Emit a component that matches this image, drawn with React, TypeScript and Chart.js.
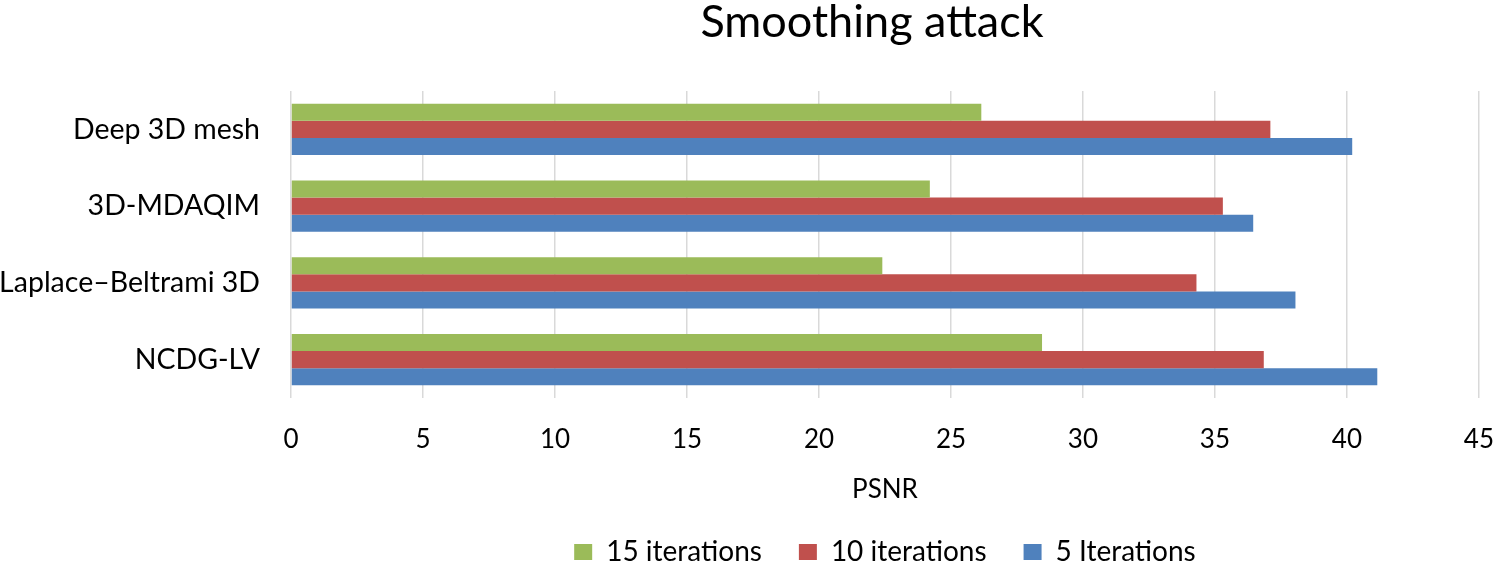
import React, { useEffect, useRef } from "react";
import { Chart, registerables } from "chart.js";

Chart.register(...registerables);

const categories = ["Deep 3D mesh", "3D-MDAQIM", "Laplace–Beltrami 3D", "NCDG-LV"];
const seriesNames = ["15 iterations", "10 iterations", "5 Iterations"];
const iter15 = [26.15, 24.2, 22.4, 28.45];
const iter10 = [37.1, 35.3, 34.3, 36.85];
const iter5 = [40.2, 36.45, 38.05, 41.15];
const seriesColors = ["#9BBB59", "#C0504D", "#4F81BD"];
const xTicks = [0, 5, 10, 15, 20, 25, 30, 35, 40, 45];
const chartTitle = "Smoothing attack";
const xTitle = "PSNR";

const FONT = "Lato, 'Open Sans', sans-serif";

const titlePlugin = {
  id: "customTitle",
  beforeLayout(chart: any) {
    const lg = chart.legend;
    if (lg && !lg._patchedFit) {
      const orig = lg.fit.bind(lg);
      lg.fit = function () {
        orig();
        this.height = 62;
      };
      lg._patchedFit = true;
    }
  },
  afterDraw(chart: any) {
    const ctx = chart.ctx;
    ctx.save();
    ctx.font = `45px ${FONT}`;
    ctx.fillStyle = "#000";
    ctx.textAlign = "center";
    ctx.textBaseline = "middle";
    ctx.fillText(chartTitle, 872, 22);
    ctx.restore();
  },
};

export default function App() {
  const ref = useRef<HTMLCanvasElement | null>(null);
  useEffect(() => {
    document.body.style.margin = "0";
    const values = [iter15, iter10, iter5];
    const chart = new Chart(ref.current!, {
      type: "bar",
      data: {
        labels: categories,
        datasets: seriesNames.map((name, i) => ({
          label: name,
          data: values[i],
          backgroundColor: seriesColors[i],
          borderWidth: 0,
          categoryPercentage: 0.665,
          barPercentage: 1.0,
        })),
      },
      options: {
        indexAxis: "y",
        animation: false,
        responsive: false,
        maintainAspectRatio: false,
        layout: { padding: { top: 91, left: 0, right: 15, bottom: 0 } },
        plugins: {
          title: { display: false },
          tooltip: { enabled: false },
          legend: {
            position: "bottom",
            fullSize: false,
            labels: {
              font: { family: FONT, size: 28 },
              color: "#000",
              boxWidth: 18,
              boxHeight: 16,
              padding: 37,
            },
          },
        },
        scales: {
          x: {
            type: "linear",
            min: 0,
            max: 45,
            afterBuildTicks(scale: any) {
              scale.ticks = xTicks.map((v) => ({ value: v }));
            },
            afterFit(scale: any) {
              scale.height = 103;
            },
            grid: {
              color: "#d9d9d9",
              lineWidth: 1.5,
              drawTicks: true,
              tickLength: 24,
              tickColor: "rgba(0,0,0,0)",
            },
            border: { display: false },
            ticks: { font: { family: FONT, size: 26 }, color: "#000", padding: 2 },
            title: {
              display: true,
              text: xTitle,
              font: { family: FONT, size: 26, lineHeight: 0.9 },
              color: "#000",
              padding: { top: 0, bottom: 0 },
            },
          },
          y: {
            afterFit(scale: any) {
              scale.width = 291;
            },
            grid: { display: false, drawTicks: false },
            border: { display: false },
            ticks: { font: { family: FONT, size: 28.5 }, color: "#000", padding: 31 },
          },
        },
      },
      plugins: [titlePlugin],
    });
    return () => chart.destroy();
  }, []);
  return (
    <div style={{ width: 1496, height: 563 }}>
      <canvas ref={ref} width={1496} height={563} style={{ display: "block" }} />
    </div>
  );
}
